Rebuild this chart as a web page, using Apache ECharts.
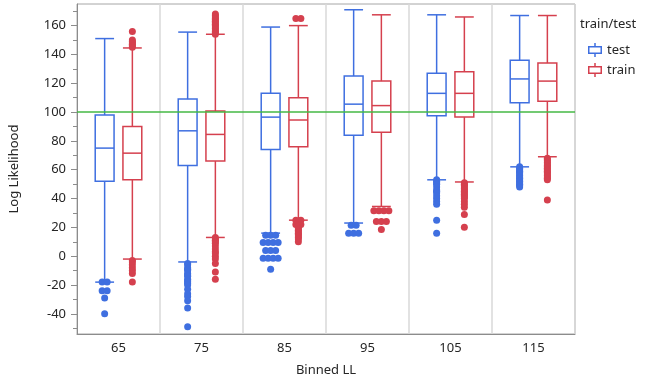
<!DOCTYPE html>
<html>
<head>
<meta charset="utf-8">
<script src="https://cdn.jsdelivr.net/npm/echarts@6/dist/echarts.min.js"></script>
<style>
  html, body { margin: 0; padding: 0; background: #fff; }
  #chart { width: 648px; height: 382px; }
</style>
</head>
<body>
<div id="chart"></div>
<script>
// Binned LL categories
const categories = ['65', '75', '85', '95', '105', '115'];

// box stats per category: [lower whisker, q1, median, q3, upper whisker]
const testBoxes = [
  [-18, 52, 75, 98, 151],
  [-4, 63, 87, 109, 155.5],
  [16, 74, 96.5, 113, 159],
  [23, 84, 105.5, 125, 171],
  [53, 97.5, 113, 127, 167.5],
  [62, 106.5, 123, 136, 167]
];
const trainBoxes = [
  [-2, 53, 71.5, 90, 144.5],
  [13, 66, 84.5, 100.7, 154],
  [25, 76, 94.5, 110, 160],
  [34.5, 86, 104.5, 121.5, 167.5],
  [51.5, 96.5, 113, 128, 166],
  [69, 107.5, 121.5, 134, 167]
];

// outliers per category
const testOutliers = [
  [-18, -18, -24, -24, -29, -40],
  [-5, -6, -8, -9, -10, -12, -13, -14, -16, -17, -18, -19, -20, -23, -26, -28, -31, -36, -49],
  [14.5, 14.5, 14.5, 9.5, 9.5, 9.5, 9.5, 4, 4, 4, -1.5, -1.5, -1.5, -1.5, -9],
  [21.5, 21.5, 16, 16, 16],
  [53, 52, 51, 50, 48, 46, 45, 44, 42, 40, 38, 36, 25, 16],
  [62, 61, 60, 59, 58, 57, 56, 55, 54, 53, 52, 51, 50, 49, 48]
];
const trainOutliers = [
  [156, 150, 149, 148, 147, 146, 145, -3, -4, -6, -8, -10, -12, -18],
  [168, 167, 166, 165, 164, 163, 162, 161, 160, 159, 158, 157, 156, 155, 154,
   13, 12, 11, 10, 9, 7, 5, 3, 2, 0, -2, -5, -11, -16],
  [165, 165, 25, 25, 24, 23, 22, 22, 21, 20, 19, 18, 17, 16, 15, 14, 13, 12, 10],
  [31.5, 31.5, 31.5, 31.5, 24, 24, 24, 18.5],
  [51, 50, 49, 48, 47, 46, 45, 44, 43, 42, 41, 40, 38, 36, 34, 29, 20],
  [68, 67, 66, 65, 64, 63, 62, 61, 60, 59, 58, 57, 56, 55, 54, 53, 39]
];

// axis ticks
const yLabelValues = [-40, -20, 0, 20, 40, 60, 80, 100, 120, 140, 160];
const yMinorValues = [-50, -30, -10, 10, 30, 50, 70, 90, 110, 130, 150, 170];
const refLine = 100;

const BLUE = '#3f6fe0';
const RED = '#d5404e';
const GREEN = '#44b944';
const TEXT = '#262626';
const AXIS = '#8c8c8c';

const BOX_OFFSET = 0.167;  // fraction of band width
const BOX_W = 0.227;
const DOT_SPREAD = 5;

const chart = echarts.init(document.getElementById('chart'));

function boxRenderer(offset, color) {
  return function (params, api) {
    const i = api.value(0);
    const bw = api.size([1, 0])[0];
    const cx = api.coord([i, 0])[0] + offset * bw;
    const half = BOX_W * bw / 2;
    const y = [1, 2, 3, 4, 5].map(d => api.coord([i, api.value(d)])[1]);
    const st = { stroke: color, lineWidth: 1.5, fill: null };
    return {
      type: 'group',
      children: [
        { type: 'line', shape: { x1: cx, y1: y[0], x2: cx, y2: y[1] }, style: st },
        { type: 'line', shape: { x1: cx, y1: y[3], x2: cx, y2: y[4] }, style: st },
        { type: 'line', shape: { x1: cx - half, y1: y[0], x2: cx + half, y2: y[0] }, style: st },
        { type: 'line', shape: { x1: cx - half, y1: y[4], x2: cx + half, y2: y[4] }, style: st },
        { type: 'rect', shape: { x: cx - half, y: y[3], width: 2 * half, height: y[1] - y[3] }, style: st },
        { type: 'line', shape: { x1: cx - half, y1: y[2], x2: cx + half, y2: y[2] }, style: st }
      ]
    };
  };
}

function dotRenderer(offset, color) {
  return function (params, api) {
    const i = api.value(0);
    const bw = api.size([1, 0])[0];
    const pt = api.coord([i, api.value(1)]);
    return {
      type: 'circle',
      shape: { cx: pt[0] + offset * bw + api.value(2) * DOT_SPREAD, cy: pt[1], r: 3.5 },
      style: { fill: color }
    };
  };
}

// spread duplicate values side by side
function outlierData(lists) {
  const out = [];
  lists.forEach((vals, i) => {
    const counts = {};
    vals.forEach(v => { counts[v] = (counts[v] || 0) + 1; });
    const seen = {};
    vals.forEach(v => {
      const k = seen[v] || 0;
      seen[v] = k + 1;
      out.push([i, v, k - (counts[v] - 1) / 2]);
    });
  });
  return out;
}

const legendIcon = 'path://M0,3L14,3L14,11L0,11Z M1.5,4.5L1.5,9.5L12.5,9.5L12.5,4.5Z M6.25,0L7.75,0L7.75,3L6.25,3Z M6.25,11L7.75,11L7.75,14L6.25,14Z';

const option = {
  animation: false,
  textStyle: { fontFamily: 'Noto Sans' },
  title: {
    text: 'train/test',
    left: 575,
    top: 13,
    textStyle: { fontSize: 13, fontWeight: 'normal', color: TEXT }
  },
  legend: {
    orient: 'vertical',
    left: 583,
    top: 38,
    itemWidth: 14,
    itemHeight: 14,
    itemGap: 6,
    icon: legendIcon,
    data: ['test', 'train'],
    textStyle: { fontSize: 13, color: TEXT }
  },
  grid: {
    left: 72,
    right: 73,
    top: 4,
    bottom: 44,
    show: true,
    borderColor: '#a6a6a6',
    borderWidth: 1
  },
  xAxis: {
    type: 'category',
    data: categories,
    name: 'Binned LL',
    nameLocation: 'middle',
    nameGap: 30,
    nameTextStyle: { fontSize: 13, color: TEXT },
    axisLine: { onZero: false, lineStyle: { color: AXIS } },
    axisTick: { length: 5, lineStyle: { color: AXIS } },
    axisLabel: { fontSize: 13, color: TEXT, margin: 8 },
    splitLine: { show: true, lineStyle: { color: '#d9d9d9', width: 1.5 } }
  },
  yAxis: [
    {
      type: 'value',
      min: -54,
      max: 175,
      name: 'Log Likelihood',
      nameLocation: 'middle',
      nameGap: 56,
      nameTextStyle: { fontSize: 13, color: TEXT },
      axisLine: { show: true, lineStyle: { color: AXIS } },
      axisTick: { show: true, length: 6, customValues: yLabelValues, lineStyle: { color: AXIS } },
      axisLabel: { fontSize: 13, color: TEXT, margin: 11, customValues: yLabelValues },
      splitLine: { show: false }
    },
    {
      type: 'value',
      min: -54,
      max: 175,
      position: 'left',
      axisLine: { show: false },
      axisTick: { show: true, length: 4, customValues: yMinorValues, lineStyle: { color: AXIS } },
      axisLabel: { show: false },
      splitLine: { show: false }
    }
  ],
  series: [
    {
      name: 'test',
      type: 'custom',
      itemStyle: { color: BLUE },
      renderItem: boxRenderer(-BOX_OFFSET, BLUE),
      encode: { x: 0, y: [1, 2, 3, 4, 5] },
      data: testBoxes.map((b, i) => [i].concat(b)),
      markLine: {
        silent: true,
        symbol: 'none',
        label: { show: false },
        lineStyle: { color: GREEN, width: 1.5, type: 'solid' },
        data: [{ yAxis: refLine }]
      },
      z: 3
    },
    {
      name: 'train',
      type: 'custom',
      itemStyle: { color: RED },
      renderItem: boxRenderer(BOX_OFFSET, RED),
      encode: { x: 0, y: [1, 2, 3, 4, 5] },
      data: trainBoxes.map((b, i) => [i].concat(b)),
      z: 3
    },
    {
      name: 'test',
      type: 'custom',
      itemStyle: { color: BLUE },
      renderItem: dotRenderer(-BOX_OFFSET, BLUE),
      encode: { x: 0, y: 1 },
      data: outlierData(testOutliers),
      z: 4
    },
    {
      name: 'train',
      type: 'custom',
      itemStyle: { color: RED },
      renderItem: dotRenderer(BOX_OFFSET, RED),
      encode: { x: 0, y: 1 },
      data: outlierData(trainOutliers),
      z: 4
    }
  ]
};

chart.setOption(option);
</script>
</body>
</html>
